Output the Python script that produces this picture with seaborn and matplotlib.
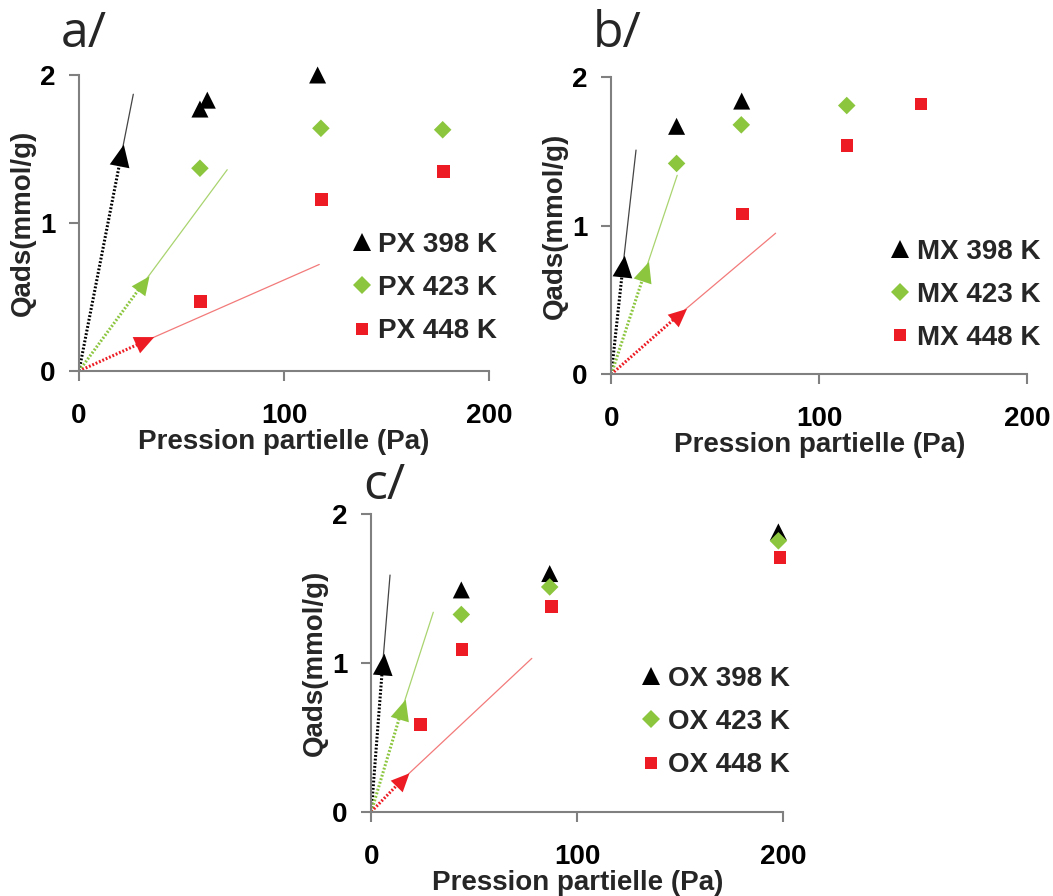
import matplotlib
matplotlib.use('Agg')
import numpy as np
import matplotlib.pyplot as plt
import seaborn as sns
import pandas as pd

# panel a - PX
a_p398 = [59, 62.6, 116.4]
a_q398 = [1.77, 1.83, 2.0]
a_p423 = [59, 118, 177.4]
a_q423 = [1.37, 1.64, 1.63]
a_p448 = [59.2, 118.4, 177.7]
a_q448 = [0.47, 1.16, 1.35]
a_first_p = [20.5, 31.2, 31.9]
a_first_q = [1.45, 0.59, 0.20]
a_line_p = [26.5, 72.3, 117.2]
a_line_q = [1.87, 1.36, 0.72]

# panel b - MX
b_p398 = [31.4, 62.7]
b_q398 = [1.67, 1.84]
b_p423 = [31.4, 62.5, 113.2]
b_q423 = [1.42, 1.68, 1.81]
b_p448 = [63, 113.3, 148.9]
b_q448 = [1.08, 1.54, 1.82]
b_first_p = [5.6, 16.2, 32.5]
b_first_q = [0.725, 0.69, 0.40]
b_line_p = [11.9, 31.7, 79]
b_line_q = [1.51, 1.34, 0.95]

# panel c - OX
c_p398 = [43.7, 86.6, 197.6]
c_q398 = [1.49, 1.60, 1.88]
c_p423 = [43.7, 86.6, 197.6]
c_q423 = [1.325, 1.51, 1.82]
c_p448 = [24, 44, 87.5, 198.4]
c_q448 = [0.587, 1.09, 1.38, 1.71]
c_first_p = [5.5, 14.7, 14.7]
c_first_q = [0.985, 0.68, 0.21]
c_line_p = [9.1, 30.1, 77.9]
c_line_q = [1.59, 1.34, 1.03]

temps = ['398 K', '423 K', '448 K']
colors = ['#000000', '#8cc63f', '#ed1c24']
thin_colors = ['#444444', '#a9d46f', '#f37a7a']
markers = ['^', 'D', 's']
msizes = [150, 80, 85]

sns.set_style('ticks')
plt.rcParams['font.family'] = ['Liberation Sans', 'DejaVu Sans']
plt.rcParams['font.weight'] = 'bold'
plt.rcParams['axes.labelweight'] = 'bold'

fig = plt.figure(figsize=(10.53, 8.96), dpi=100)


def head_marker(ax, x, y):
    # pointe de fleche orientee selon la droite (0,0)->(x,y) a l'ecran
    x0, y0 = ax.transData.transform((0, 0))
    x1, y1 = ax.transData.transform((x, y))
    a = np.arctan2(y1 - y0, x1 - x0)
    pts = np.array([[0.6, 0], [-0.5, 0.5], [-0.5, -0.5]])
    rot = np.array([[np.cos(a), -np.sin(a)], [np.sin(a), np.cos(a)]])
    return pts @ rot.T


def panel(rect, prefix, pts, first_p, first_q, line_p, line_q, leg_xy, letter, letter_xy):
    ax = fig.add_axes(rect)
    ax.set_xlim(0, 200)
    ax.set_ylim(0, 2)
    rows = []
    for i, (p, q) in enumerate(pts):
        for x, y in zip(p, q):
            rows.append({'P': x, 'Q': y, 'serie': prefix + ' ' + temps[i]})
    df = pd.DataFrame(rows)
    names = [prefix + ' ' + t for t in temps]
    sns.scatterplot(data=df, x='P', y='Q', hue='serie', style='serie', size='serie',
                    hue_order=names, style_order=names, size_order=names,
                    palette=dict(zip(names, colors)), markers=dict(zip(names, markers)),
                    sizes=dict(zip(names, msizes)), linewidth=0, ax=ax, clip_on=False)

    # pente initiale
    for i in range(3):
        ax.plot([first_p[i], line_p[i]], [first_q[i], line_q[i]], color=thin_colors[i], lw=0.9)
        ax.plot([0, first_p[i]], [0, first_q[i]], color=colors[i], lw=2.2,
                linestyle=(0, (0.6, 0.6)))
        ax.plot([first_p[i]], [first_q[i]], linestyle='none', color=colors[i],
                marker=head_marker(ax, first_p[i], first_q[i]), markersize=17,
                markeredgewidth=0)

    ax.set_xlim(0, 200)
    ax.set_ylim(0, 2)
    ax.set_xticks([0, 100, 200])
    ax.set_yticks([0, 1, 2])
    sns.despine(ax=ax)
    for s in ['left', 'bottom']:
        ax.spines[s].set_color('#808080')
        ax.spines[s].set_linewidth(1.5)
    ax.tick_params(axis='both', colors='#808080', labelcolor='black', length=7, width=1.5,
                   labelsize=20)
    ax.tick_params(axis='x', pad=16)
    ax.tick_params(axis='y', pad=10)
    ax.set_xlabel('Pression partielle (Pa)', fontsize=20, labelpad=0)
    ax.set_ylabel('Qads(mmol/g)', fontsize=20, labelpad=3)

    sns.move_legend(ax, 'center left', bbox_to_anchor=leg_xy, title=None, frameon=False,
                    fontsize=20, borderpad=0, borderaxespad=0, handletextpad=0.2,
                    labelspacing=0.62, handlelength=0.8)
    fig.text(letter_xy[0], letter_xy[1], letter, fontsize=36, fontweight='normal',
             family=['Open Sans', 'DejaVu Sans'], va='baseline')
    return ax


panel([0.0750, 0.5859, 0.3894, 0.3304], 'PX',
      [(a_p398, a_q398), (a_p423, a_q423), (a_p448, a_q448)],
      a_first_p, a_first_q, a_line_p, a_line_q, (0.662, 0.28), 'a/', (0.058, 0.947))
panel([0.5805, 0.5823, 0.3951, 0.3314], 'MX',
      [(b_p398, b_q398), (b_p423, b_q423), (b_p448, b_q448)],
      b_first_p, b_first_q, b_line_p, b_line_q, (0.667, 0.267), 'b/', (0.563, 0.947))
panel([0.3526, 0.0941, 0.3913, 0.3322], 'OX',
      [(c_p398, c_q398), (c_p423, c_q423), (c_p448, c_q448)],
      c_first_p, c_first_q, c_line_p, c_line_q, (0.652, 0.301), 'c/', (0.345, 0.443))

fig.savefig('out.png', dpi=100)
